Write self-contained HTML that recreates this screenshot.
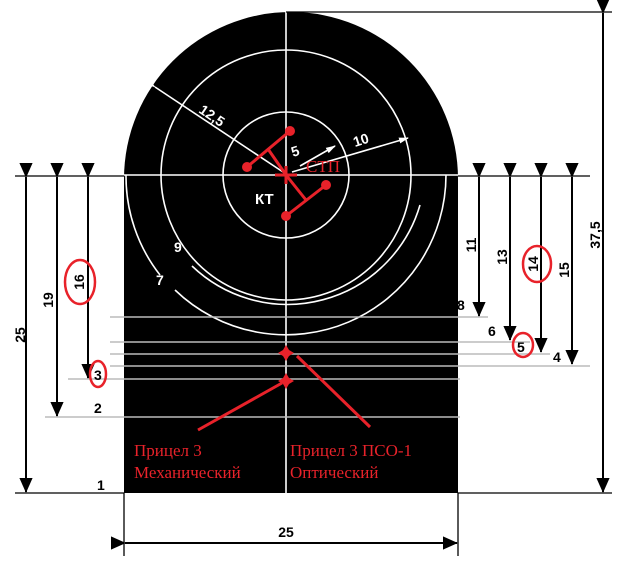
<!DOCTYPE html>
<html><head><style>body{margin:0;background:#fff}svg{display:block}</style></head><body>
<svg width="617" height="569" viewBox="0 0 617 569" xmlns="http://www.w3.org/2000/svg" font-family="Liberation Sans, sans-serif">
<defs>
<marker id="a" markerWidth="15" markerHeight="15" refX="17" refY="8" orient="auto" markerUnits="userSpaceOnUse" viewBox="0 0 18 16"><path d="M0,0L18,8L0,16z" fill="#000"/></marker>
<marker id="w" markerWidth="10" markerHeight="8" refX="9" refY="4" orient="auto" markerUnits="userSpaceOnUse" viewBox="0 0 10 8"><path d="M0,1L10,4L0,7z" fill="#fff"/></marker>
</defs>
<path d="M124,493 L124,179 A167,167 0 0 1 458,179 L458,493 Z" fill="#000"/>
<g stroke="#fff" stroke-width="1.6" fill="none">
<circle cx="286" cy="175" r="63"/>
<circle cx="286" cy="175" r="125"/>
<path d="M192,266 A138,138 0 0 0 420,205"/>
<path d="M126,175 A160,160 0 0 0 160,275"/>
<path d="M175,290 A160,160 0 0 0 446,175"/>
<line x1="286" y1="12" x2="286" y2="493"/>
<line x1="124" y1="175" x2="458" y2="175"/>
<line x1="155" y1="87" x2="283" y2="172" marker-start="url(#w)"/>
<line x1="292" y1="172" x2="408" y2="138" marker-end="url(#w)"/>
<line x1="300" y1="166" x2="335" y2="146" marker-end="url(#w)"/>
</g>
<g stroke="#bbb" stroke-width="1.5">
<line x1="110" y1="317" x2="488" y2="317"/>
<line x1="110" y1="342" x2="530" y2="342"/>
<line x1="110" y1="354" x2="550" y2="354"/>
<line x1="110" y1="366" x2="590" y2="366"/>
<line x1="68" y1="379" x2="460" y2="379"/>
<line x1="45" y1="417" x2="460" y2="417"/>
</g>
<g stroke="#000" stroke-width="1.3">
<line x1="15" y1="176" x2="124" y2="176"/>
<line x1="458" y1="176" x2="590" y2="176"/>
<line x1="286" y1="12" x2="612" y2="12"/>
<line x1="15" y1="493" x2="124" y2="493"/>
<line x1="458" y1="493" x2="612" y2="493"/>
<line x1="124" y1="493" x2="124" y2="556"/>
<line x1="458" y1="493" x2="458" y2="556"/>
</g>
<g stroke="#000" stroke-width="2">
<line x1="26" y1="177" x2="26" y2="492" marker-start="url(#a)" marker-end="url(#a)"/>
<line x1="57" y1="177" x2="57" y2="416" marker-start="url(#a)" marker-end="url(#a)"/>
<line x1="88" y1="177" x2="88" y2="378" marker-start="url(#a)" marker-end="url(#a)"/>
<line x1="479" y1="177" x2="479" y2="316" marker-start="url(#a)" marker-end="url(#a)"/>
<line x1="510" y1="177" x2="510" y2="340" marker-start="url(#a)" marker-end="url(#a)"/>
<line x1="541" y1="177" x2="541" y2="352" marker-start="url(#a)" marker-end="url(#a)"/>
<line x1="572" y1="177" x2="572" y2="364" marker-start="url(#a)" marker-end="url(#a)"/>
<line x1="603" y1="13" x2="603" y2="492" marker-start="url(#a)" marker-end="url(#a)"/>
<line x1="125" y1="543" x2="457" y2="543" marker-start="url(#a)" marker-end="url(#a)"/>
</g>
<g font-size="14" font-weight="bold" fill="#000">
<text x="20" y="335" transform="rotate(-90 20 335)" text-anchor="middle" dy="5">25</text>
<text x="48" y="300" transform="rotate(-90 48 300)" text-anchor="middle" dy="5">19</text>
<text x="79" y="282" transform="rotate(-90 79 282)" text-anchor="middle" dy="5">16</text>
<text x="471" y="245" transform="rotate(-90 471 245)" text-anchor="middle" dy="5">11</text>
<text x="502" y="257" transform="rotate(-90 502 257)" text-anchor="middle" dy="5">13</text>
<text x="533" y="264" transform="rotate(-90 533 264)" text-anchor="middle" dy="5">14</text>
<text x="564" y="270" transform="rotate(-90 564 270)" text-anchor="middle" dy="5">15</text>
<text x="595" y="235" transform="rotate(-90 595 235)" text-anchor="middle" dy="5">37,5</text>
<text x="286" y="537" text-anchor="middle">25</text>
<text x="94" y="380">3</text><text x="94" y="413">2</text><text x="97" y="490">1</text>
<text x="457" y="310">8</text><text x="488" y="336">6</text><text x="517" y="352">5</text><text x="553" y="362">4</text>
</g>
<g font-size="14" font-weight="bold" fill="#fff">
<text x="198" y="112" transform="rotate(34 198 112)">12,5</text>
<text x="355" y="147" transform="rotate(-18 355 147)">10</text>
<text x="293" y="157" transform="rotate(-18 293 157)">5</text>
<text x="255" y="204" font-size="15">КТ</text>
<text x="174" y="252">9</text><text x="156" y="285">7</text>
</g>
<g stroke="#e8222a" stroke-width="3" fill="none">
<line x1="247" y1="167" x2="290" y2="131"/><line x1="268" y1="149" x2="286" y2="175"/>
<line x1="286" y1="216" x2="326" y2="185"/><line x1="306" y1="200" x2="286" y2="175"/>
<line x1="275" y1="175" x2="297" y2="175"/><line x1="286" y1="166" x2="286" y2="184"/>
<line x1="198" y1="430" x2="282" y2="383"/><line x1="370" y1="427" x2="297" y2="356"/>
</g>
<g fill="#e8222a">
<circle cx="290" cy="131" r="5"/><circle cx="247" cy="167" r="5"/><circle cx="326" cy="185" r="5"/><circle cx="286" cy="216" r="5"/>
<path d="M286,345L289,350L294,353L289,356L286,361L283,356L278,353L283,350Z"/>
<path d="M286,373L289,378L294,381L289,384L286,389L283,384L278,381L283,378Z"/>
</g>
<g stroke="#e8222a" stroke-width="2.5" fill="none">
<ellipse cx="80" cy="282" rx="15" ry="22"/><ellipse cx="98" cy="374" rx="8" ry="13"/>
<ellipse cx="537" cy="264" rx="14" ry="18"/><ellipse cx="523" cy="345" rx="10" ry="12"/>
</g>
<g font-family="Liberation Serif, serif" font-size="17" fill="#e8222a">
<text x="306" y="172">СТП</text>
<text x="134" y="456">Прицел 3</text><text x="134" y="478">Механический</text>
<text x="290" y="456">Прицел 3 ПСО-1</text><text x="290" y="478">Оптический</text>
</g>
</svg>
</body></html>
